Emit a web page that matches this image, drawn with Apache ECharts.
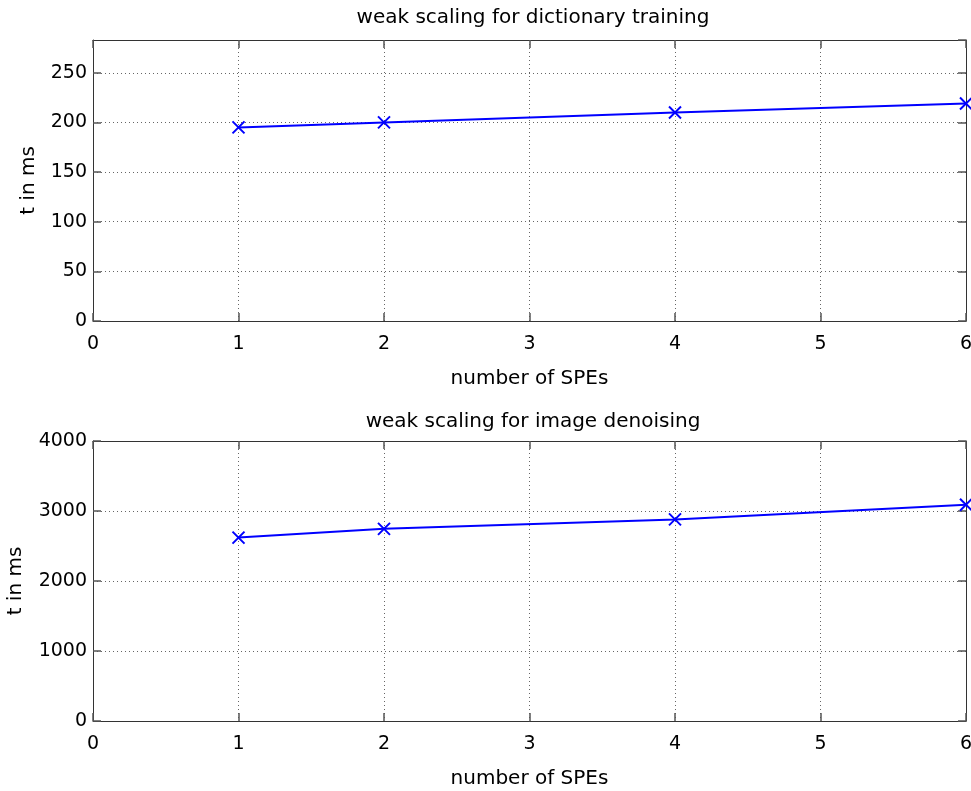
<!DOCTYPE html>
<html>
<head>
<meta charset="utf-8">
<script src="https://cdn.jsdelivr.net/npm/echarts@6/dist/echarts.min.js"></script>
<style>
  html, body { margin: 0; padding: 0; background: #fff; }
  #chart { width: 971px; height: 791px; }
</style>
</head>
<body>
<div id="chart"></div>
<script>
// number of SPEs
const spes = [1, 2, 4, 6];
// weak scaling, t in ms
const dictTraining = [195, 200, 210, 219];
const imageDenoising = [2620, 2745, 2880, 3090];

const chart = echarts.init(document.getElementById('chart'));
const font = 'DejaVu Sans, Liberation Sans, sans-serif';
const crossPath = 'path://M0,0L10,10M10,0L0,10';

function xAxisFor(gridIndex, bottom) {
  return {
    type: 'value', gridIndex, min: 0, max: 6, interval: 1,
    position: bottom ? 'bottom' : 'top',
    name: bottom ? 'number of SPEs' : '',
    nameLocation: 'middle', nameGap: 48,
    nameTextStyle: { fontFamily: font, fontSize: 20, color: '#000' },
    axisLine: { show: true, onZero: false, lineStyle: { color: '#333', width: 1 } },
    axisTick: { show: true, inside: true, length: 8, lineStyle: { color: '#555', width: 1.5 } },
    axisLabel: { show: bottom, fontFamily: font, fontSize: 19, color: '#000', margin: 14 },
    splitLine: { show: bottom, lineStyle: { color: '#666', type: [1, 3], width: 1 } }
  };
}

function yAxisFor(gridIndex, left, max, interval, nameGap) {
  return {
    type: 'value', gridIndex, min: 0, max, interval,
    position: left ? 'left' : 'right',
    name: left ? 't in ms' : '',
    nameLocation: 'middle', nameGap,
    nameTextStyle: { fontFamily: font, fontSize: 20, color: '#000' },
    axisLine: { show: true, onZero: false, lineStyle: { color: '#333', width: 1 } },
    axisTick: { show: true, inside: true, length: 8, lineStyle: { color: '#555', width: 1.5 } },
    axisLabel: {
      show: left, showMaxLabel: max % interval === 0,
      fontFamily: font, fontSize: 19, color: '#000', margin: 6,
      formatter: v => String(v)
    },
    splitLine: { show: left, lineStyle: { color: '#666', type: [1, 3], width: 1 } }
  };
}

function lineSeries(xIdx, yIdx, values) {
  return {
    type: 'line', xAxisIndex: xIdx, yAxisIndex: yIdx,
    data: spes.map((s, i) => [s, values[i]]),
    symbol: crossPath, symbolSize: 12,
    lineStyle: { color: '#0000ff', width: 2 },
    itemStyle: { color: 'transparent', borderColor: '#0000ff', borderWidth: 2 },
    animation: false, z: 5
  };
}

const option = {
  backgroundColor: '#fff',
  title: [
    { text: 'weak scaling for dictionary training', left: 528, top: 3, textAlign: 'center',
      textStyle: { fontFamily: font, fontSize: 20, fontWeight: 'normal', color: '#000' } },
    { text: 'weak scaling for image denoising', left: 528, top: 407, textAlign: 'center',
      textStyle: { fontFamily: font, fontSize: 20, fontWeight: 'normal', color: '#000' } }
  ],
  grid: [
    { left: 93, right: 5, top: 40, height: 281, containLabel: false, outerBoundsMode: 'none' },
    { left: 93, right: 5, top: 441, height: 280, containLabel: false, outerBoundsMode: 'none' }
  ],
  xAxis: [
    xAxisFor(0, true), xAxisFor(0, false),
    xAxisFor(1, true), xAxisFor(1, false)
  ],
  yAxis: [
    yAxisFor(0, true, 283, 50, 54), yAxisFor(0, false, 283, 50, 0),
    yAxisFor(1, true, 4000, 1000, 67), yAxisFor(1, false, 4000, 1000, 0)
  ],
  series: [
    lineSeries(0, 0, dictTraining),
    lineSeries(2, 2, imageDenoising)
  ]
};
chart.setOption(option);
</script>
</body>
</html>
